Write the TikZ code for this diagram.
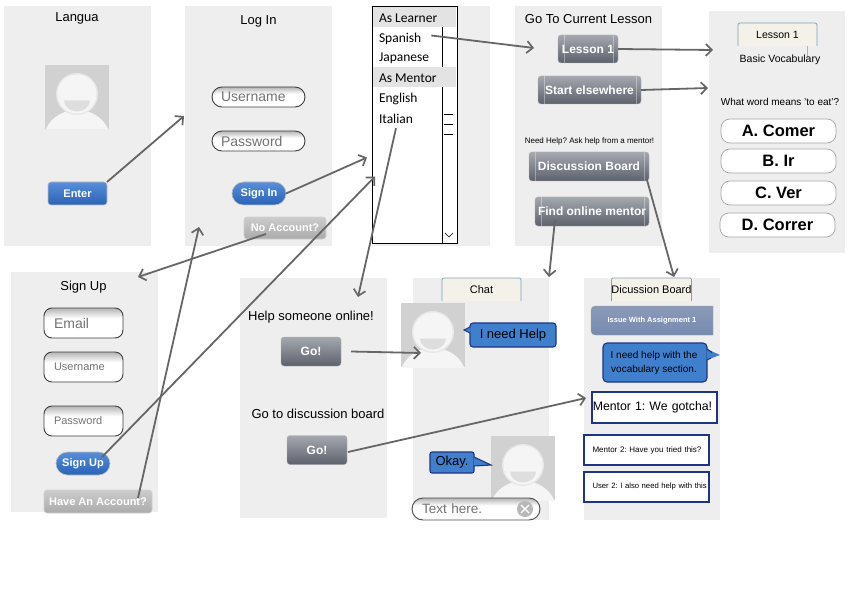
\documentclass[tikz,border=0pt]{standalone}
\usepackage{fontspec}
\setmainfont{Liberation Sans}
\newfontfamily\handfont{Carlito}
\usetikzlibrary{arrows.meta}
\definecolor{panelgrey}{HTML}{EEEEEE}
\definecolor{arrowgrey}{HTML}{666666}
\definecolor{bubblefill}{HTML}{3F7FCB}
\definecolor{navyline}{HTML}{1E3585}
\definecolor{tabfill}{HTML}{F4F2E8}
\definecolor{tabline}{HTML}{7F9FB5}
\definecolor{fieldtop}{HTML}{B4B4B4}
\pgfdeclareverticalshading{fieldshade}{100bp}{color(0bp)=(white); color(58bp)=(white); color(75bp)=(fieldtop); color(100bp)=(fieldtop)}
\newcommand\fsz[1]{\fontsize{#1}{#1}\selectfont}
\newcommand\avatarpic[3]{%
  \node[avatarbox] (#1) at (#2,#3) {};
  \begin{scope}
    \clip (#2-32,#3-32) rectangle (#2+32,#3+32);
    \fill[black!4] (#2,#3+42) ellipse [x radius=33,y radius=29];
    \fill[black!9] (#2,#3-3) circle [radius=21];
    \fill[black!4] (#2,#3-3) circle [radius=19.5];
    \fill[black!13] (#2-13,#3+3.5) arc [start angle=180,end angle=0,x radius=13,y radius=11] -- cycle;
  \end{scope}}
\tikzset{
  panel/.style={fill=panelgrey,draw=none,minimum width=#1,minimum height=240pt,inner sep=0pt,outer sep=0pt},
  panel/.default=147pt,
  lbl/.style={inner sep=0pt,outer sep=0pt,text=black},
  avatarbox/.style={fill=black!18,minimum size=64pt,inner sep=0pt,outer sep=0pt},
  field/.style={draw=black!75,line width=.9pt,shade,shading=fieldshade,inner sep=0pt,outer sep=0pt,text=black!55},
  bluebtnc/.style={draw=black!25,line width=.6pt,top color={rgb,255:red,88;green,142;blue,218},bottom color={rgb,255:red,42;green,98;blue,182},inner sep=0pt,outer sep=0pt,text=white,font=\bfseries\fsz{11}},
  greybtn/.style={draw=black!18,line width=.6pt,top color=black!20,bottom color=black!33,rounded corners=3pt,inner sep=0pt,outer sep=0pt,text=white,font=\bfseries\fsz{11}},
  metal/.style={draw=black!30,line width=.4pt,top color={rgb,255:red,165;green,168;blue,175},bottom color={rgb,255:red,92;green,97;blue,108},rounded corners=3pt,inner sep=0pt,outer sep=0pt,text=white,font=\bfseries\fsz{12}},
  gloss/.style={path picture={
    \draw[white,opacity=.35,line width=.5pt] ([xshift=6pt]path picture bounding box.north west) -- ([xshift=6pt]path picture bounding box.south west);
    \draw[white,opacity=.35,line width=.5pt] ([xshift=-5pt]path picture bounding box.north east) -- ([xshift=-5pt]path picture bounding box.south east);}},
  answer/.style={draw=black!35,line width=.7pt,fill=white,rounded corners=9pt,minimum width=115pt,minimum height=24pt,inner sep=0pt,outer sep=0pt,font=\bfseries\fsz{16.5}},
  listitem/.style={anchor=west,inner sep=0pt,outer sep=0pt,font=\handfont\fsz{13.5},text=black},
  listhead/.style={fill=black!11,minimum width=83pt,minimum height=20pt,inner sep=0pt,outer sep=0pt},
  tabbox/.style={fill=tabfill,minimum width=79pt,minimum height=23pt,inner sep=0pt,outer sep=0pt,font=\fsz{11}},
  tabedge/.style={draw=tabline,line width=.7pt,rounded corners=2pt},
  bubble/.style={fill=bubblefill,draw=navyline,line width=1.1pt,rounded corners=3pt,inner sep=0pt,outer sep=0pt,text=black},
  msg/.style={fill=white,draw=navyline,line width=1.6pt,minimum width=125pt,inner sep=0pt,outer sep=0pt,text=black},
  conn/.style={draw=arrowgrey,line width=1.8pt,-{Straight Barb[length=6pt,width=12pt,line width=1.7pt]}},
}
\begin{document}
\frenchspacing
\begin{tikzpicture}[x=1pt,y=-1pt]
\useasboundingbox (0,0) rectangle (868,607);
% panels
\node[panel] (lang) at (77.5,126) {};
\node[panel] (login) at (258.5,126) {};
\node[panel=118pt] (listpanel) at (431,126) {};
\node[panel] (gotol) at (588.5,126) {};
\node[panel=136pt,minimum height=242pt] (lessonp) at (777,132) {};
\node[panel] (signup) at (84.5,392) {};
\node[panel] (helpp) at (313.5,398) {};
\node[panel=136pt,minimum height=242pt] (chatp) at (481,399) {};
\node[panel=136pt,minimum height=242pt] (boardp) at (652,399) {};
% Langua
\node[lbl,font=\fsz{13}] (langt) at (77,18) {Langua};
\avatarpic{ava1}{77}{97}
\node[bluebtnc,rounded corners=3pt,minimum width=59pt,minimum height=23pt] (enter) at (77.5,193.5) {Enter};
% Log In
\node[lbl,font=\fsz{13}] (logt) at (258.5,21) {Log In};
\node[field,rounded corners=10pt,minimum width=93pt,minimum height=20pt,text width=75pt,align=left,font=\fsz{14}] (user1) at (258.5,97) {Username};
\node[field,rounded corners=10pt,minimum width=93pt,minimum height=20pt,text width=75pt,align=left,font=\fsz{14}] (pass1) at (258.5,141) {Password};
\node[bluebtnc,rounded corners=11.5pt,minimum width=54pt,minimum height=23pt] (signin) at (259,193.5) {Sign In};
\node[greybtn,minimum width=82pt,minimum height=22pt] (noacc) at (285,228) {No Account?};
% list
\node[draw=black,line width=.9pt,fill=white,minimum width=85pt,minimum height=237pt,inner sep=0pt,outer sep=0pt] (list) at (414.5,124.5) {};
\draw[black,line width=.9pt] (442.5,6) -- (442.5,243);
\node[listhead] (head1) at (414.5,17) {};
\node[listhead] (head2) at (414.5,77) {};
\node[listitem] (item1) at (379,18.5) {As Learner};
\node[listitem] (item2) at (379,38.5) {Spanish};
\node[listitem] (item3) at (379,58.5) {Japanese};
\node[listitem] (item4) at (379,78.5) {As Mentor};
\node[listitem] (item5) at (379,98.5) {English};
\node[listitem] (item6) at (379,118.5) {Italian};
\draw[black,line width=.5pt] (444,114) -- (453,114) (444,124) -- (453,124) (444,134) -- (453,134);
\draw[black,line width=.6pt] (445,233) -- (449,237) -- (453,233);
% Go to lesson
\node[lbl,font=\fsz{13}] (gotot) at (588.5,19.5) {Go To Current Lesson};
\node[metal,gloss,minimum width=60pt,minimum height=28pt] (les1btn) at (588,49) {Lesson 1};
\node[metal,gloss,minimum width=103pt,minimum height=28pt] (startbtn) at (589.5,90) {Start elsewhere};
\node[lbl,font=\fsz{8}] (needt) at (589.5,141) {Need Help? Ask help from a mentor!};
\node[metal,gloss,minimum width=120pt,minimum height=29pt] (discuss) at (589,166.5) {Discussion Board};
\node[metal,gloss,minimum width=114pt,minimum height=29pt] (find) at (592,211.5) {Find online mentor};
% Lesson panel
\node[tabbox,font=\fsz{10.5}] (ltab) at (777.5,34.5) {Lesson 1};
\draw[tabedge] (ltab.south west) -- (ltab.north west) -- (ltab.north east) -- (ltab.south east);
\draw[black!30,line width=.5pt] (807,46) -- (807,57);
\node[lbl,font=\fsz{10.5}] (basict) at (780,60) {Basic Vocabulary};
\node[lbl,font=\fsz{10}] (whatt) at (780,102) {What word means 'to eat'?};
\node[answer] (ansa) at (778.5,131) {A. Comer};
\node[answer] (ansb) at (778.5,161) {B. Ir};
\node[answer] (ansc) at (778.5,193) {C. Ver};
\node[answer] (ansd) at (777.5,225) {D. Correr};
% Sign up
\node[lbl,font=\fsz{13}] (signt) at (83.5,287) {Sign Up};
\node[field,rounded corners=8pt,minimum width=79pt,minimum height=30pt,text width=59pt,align=left,font=\fsz{14}] (email) at (83.5,323) {Email};
\node[field,rounded corners=8pt,minimum width=79pt,minimum height=30pt,text width=59pt,align=left,font=\fsz{11}] (user2) at (83.5,367) {Username};
\node[field,rounded corners=8pt,minimum width=79pt,minimum height=30pt,text width=59pt,align=left,font=\fsz{11}] (pass2) at (83.5,421) {Password};
\node[bluebtnc,rounded corners=11.5pt,minimum width=54pt,minimum height=23pt] (signupb) at (83,463.5) {Sign Up};
\node[greybtn,minimum width=108pt,minimum height=23pt] (haveb) at (98,501.5) {Have An Account?};
% Help
\node[lbl,font=\fsz{13}] (helpt) at (311,317) {Help someone online!};
\node[metal,minimum width=60pt,minimum height=29pt] (go1) at (311,351.5) {Go!};
\node[lbl,font=\fsz{13}] (gotot2) at (318,413.5) {Go to discussion board};
\node[metal,minimum width=60pt,minimum height=29pt] (go2) at (317,450) {Go!};
% Chat
\node[tabbox] (ctab) at (481.5,289.5) {Chat};
\draw[tabedge] (ctab.south west) -- (ctab.north west) -- (ctab.north east) -- (ctab.south east);
\avatarpic{ava2}{433}{335}
\avatarpic{ava3}{523}{468}
\node[bubble,minimum width=86pt,minimum height=24pt,font=\fsz{13}] (need) at (513,335) {I need Help};
\fill[bubblefill] (470.5,327) -- (464,330) -- (470.5,333) -- cycle;
\draw[navyline,line width=1.1pt] (470,327) -- (464,330) -- (470,333);
\node[bubble,rounded corners=2pt,minimum width=44pt,minimum height=21pt,font=\fsz{13}] (okay) at (452,462.5) {Okay.};
\fill[bubblefill] (473.5,457) -- (491,465) -- (473.5,466) -- cycle;
\draw[navyline,line width=1.1pt] (474,457) -- (491,465) -- (474,466);
\node[field,draw=black!70,rounded corners=11pt,minimum width=128pt,minimum height=22pt,text width=108pt,align=left,font=\fsz{13.5}] (textf) at (476,509) {Text here.};
\node[circle,fill=black!28,minimum size=16pt,inner sep=0pt,outer sep=0pt] (clear) at (525,509) {};
\draw[white,line width=1.3pt] ([shift={(-4,-4)}]clear.center) -- ([shift={(4,4)}]clear.center) ([shift={(-4,4)}]clear.center) -- ([shift={(4,-4)}]clear.center);
% Board
\node[tabbox] (btab) at (651.5,289.5) {Dicussion Board};
\draw[tabedge] (btab.south west) -- (btab.north west) -- (btab.north east) -- (btab.south east);
\shade[draw=black!35,line width=.4pt,top color={rgb,255:red,140;green,154;blue,184},bottom color={rgb,255:red,118;green,138;blue,176}]
  (713,306) [rounded corners=0pt] -- (713,335) [rounded corners=4pt] -- (591,335) -- (591,306) [rounded corners=0pt] -- cycle;
\node[lbl,text=white,font=\bfseries\fsz{7.5}] (issue) at (652,321) {Issue With Assignment 1};
\node[bubble,rounded corners=4pt,minimum width=104pt,minimum height=39pt] (helpb) at (655,362.5) {};
\fill[bubblefill] (706.5,349) -- (720,355) -- (706.5,360) -- cycle;
\draw[navyline,line width=1.1pt] (707,349) -- (712,352.5);
\draw[navyline,line width=1.1pt] (711,358) -- (707,360);
\node[lbl,font=\fsz{10},align=center] (helpbt) at (654,363) {I need help with the\\[4pt]vocabulary section.};
\node[msg,minimum height=31pt,text width=123.5pt,align=left,font=\fsz{12.3}] (mentor1) at (654.5,407.5) {Mentor 1: We gotcha!};
\node[msg,minimum height=30pt,text width=108pt,align=left,font=\fsz{8}] (mentor2) at (646.5,450) {\mbox{Mentor 2: Have you tried this?}};
\node[msg,minimum height=30pt,text width=108pt,align=left,font=\fsz{7.7}] (user2m) at (646.5,487) {\mbox{User 2: I also need help with this}};
% connectors
\draw[conn] (enter.north east) -- ([shift={(-1,-10)}]login.west);
\draw[conn] (signin.east) -- ([shift={(-5,33)}]list.west);
\draw[conn] ([shift={(19,-6.5)}]signupb.center) -- ([shift={(3,52)}]list.west);
\draw[conn] ([shift={(40,-3.5)}]haveb.center) -- ([shift={(14,-19)}]login.south west);
\draw[conn] ([shift={(-19,6)}]noacc.center) -- ([shift={(-20,5)}]signup.north east);
\draw[conn] ([shift={(0,5)}]item6.south) -- ([shift={(-29,19)}]helpp.north east);
\draw[conn] ([shift={(10,-3)}]item2.east) -- ([shift={(-24,-1)}]les1btn.west);
\draw[conn] (les1btn.east) -- ([shift={(4,-82)}]lessonp.west);
\draw[conn] (startbtn.east) -- ([shift={(-1,-44)}]lessonp.west);
\draw[conn] ([shift={(-2,-1)}]discuss.south east) -- ([shift={(22,-1)}]boardp.north);
\draw[conn] ([shift={(-37,8.5)}]find.center) -- ([shift={(0,-1)}]chatp.north east);
\draw[conn] ([shift={(10,0)}]go1.east) -- ([shift={(-12,18)}]ava2.center);
\draw[conn] ([shift={(1,2)}]go2.east) -- ([shift={(-6,-9.5)}]mentor1.west);
\end{tikzpicture}
\end{document}
